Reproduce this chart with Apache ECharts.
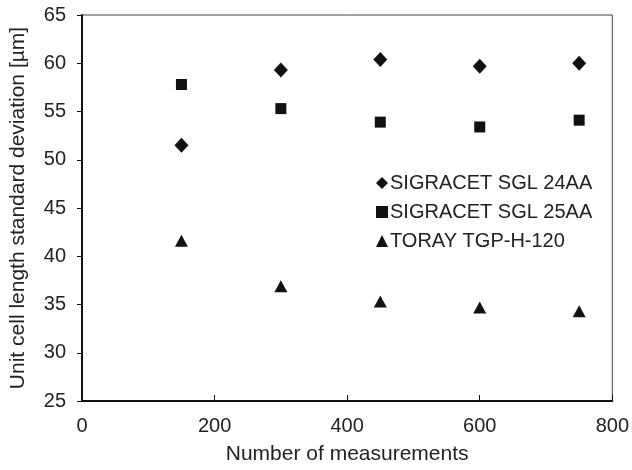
<!DOCTYPE html>
<html>
<head>
<meta charset="utf-8">
<script src="https://cdn.jsdelivr.net/npm/echarts@6/dist/echarts.min.js"></script>
<style>
  html, body { margin: 0; padding: 0; background: #fff; }
  #main { width: 632px; height: 470px; }
</style>
</head>
<body>
<div id="main"></div>
<script>
// measurement counts
var measurements = [150, 300, 450, 600, 750];
// unit cell length std deviation [µm]
var sgl24aa = [51.5, 59.3, 60.4, 59.7, 60.0];
var sgl25aa = [57.8, 55.3, 53.9, 53.4, 54.1];
var toray = [41.6, 36.9, 35.3, 34.7, 34.3];
var seriesNames = ['SIGRACET SGL 24AA', 'SIGRACET SGL 25AA', 'TORAY TGP-H-120'];

function pairs(vals) {
  return measurements.map(function (m, i) { return [m, vals[i]]; });
}

var font = 'Liberation Sans, Arial, sans-serif';
var ink = '#111';
var chart = echarts.init(document.getElementById('main'));
var option = {
  animation: false,
  textStyle: { fontFamily: font },
  grid: {
    left: 82,
    right: 17,
    top: 15,
    bottom: 67,
    show: true,
    borderColor: '#444',
    borderWidth: 1
  },
  legend: {
    orient: 'vertical',
    left: 371,
    top: 168,
    itemGap: 9,
    itemWidth: 12,
    itemHeight: 12,
    itemStyle: { color: ink, opacity: 1 },
    textStyle: { fontSize: 20, color: '#222', fontFamily: font, padding: [0, 0, 0, -3] },
    data: seriesNames
  },
  xAxis: {
    type: 'value',
    min: 0,
    max: 800,
    interval: 200,
    name: 'Number of measurements',
    nameLocation: 'middle',
    nameGap: 43,
    nameTextStyle: { fontSize: 21, color: '#222' },
    axisLine: { lineStyle: { color: ink, width: 2 } },
    axisTick: { inside: true, length: 6, lineStyle: { color: ink } },
    axisLabel: { fontSize: 20, color: '#222', margin: 15 },
    splitLine: { show: false }
  },
  yAxis: {
    type: 'value',
    min: 25,
    max: 65,
    interval: 5,
    name: 'Unit cell length standard deviation [µm]',
    nameLocation: 'middle',
    nameGap: 53,
    nameTextStyle: { fontSize: 21, color: '#222' },
    axisLine: { lineStyle: { color: ink, width: 2 } },
    axisTick: { inside: false, length: 5, lineStyle: { color: ink } },
    axisLabel: { fontSize: 20, color: '#222', margin: 16 },
    splitLine: { show: false }
  },
  series: [
    {
      name: seriesNames[0],
      type: 'scatter',
      symbol: 'diamond',
      symbolSize: [14, 15],
      itemStyle: { color: ink, opacity: 1 },
      data: pairs(sgl24aa)
    },
    {
      name: seriesNames[1],
      type: 'scatter',
      symbol: 'rect',
      symbolSize: 11,
      itemStyle: { color: ink, opacity: 1 },
      data: pairs(sgl25aa)
    },
    {
      name: seriesNames[2],
      type: 'scatter',
      symbol: 'triangle',
      symbolSize: [13, 12],
      itemStyle: { color: ink, opacity: 1 },
      data: pairs(toray)
    }
  ]
};
chart.setOption(option);
</script>
</body>
</html>
